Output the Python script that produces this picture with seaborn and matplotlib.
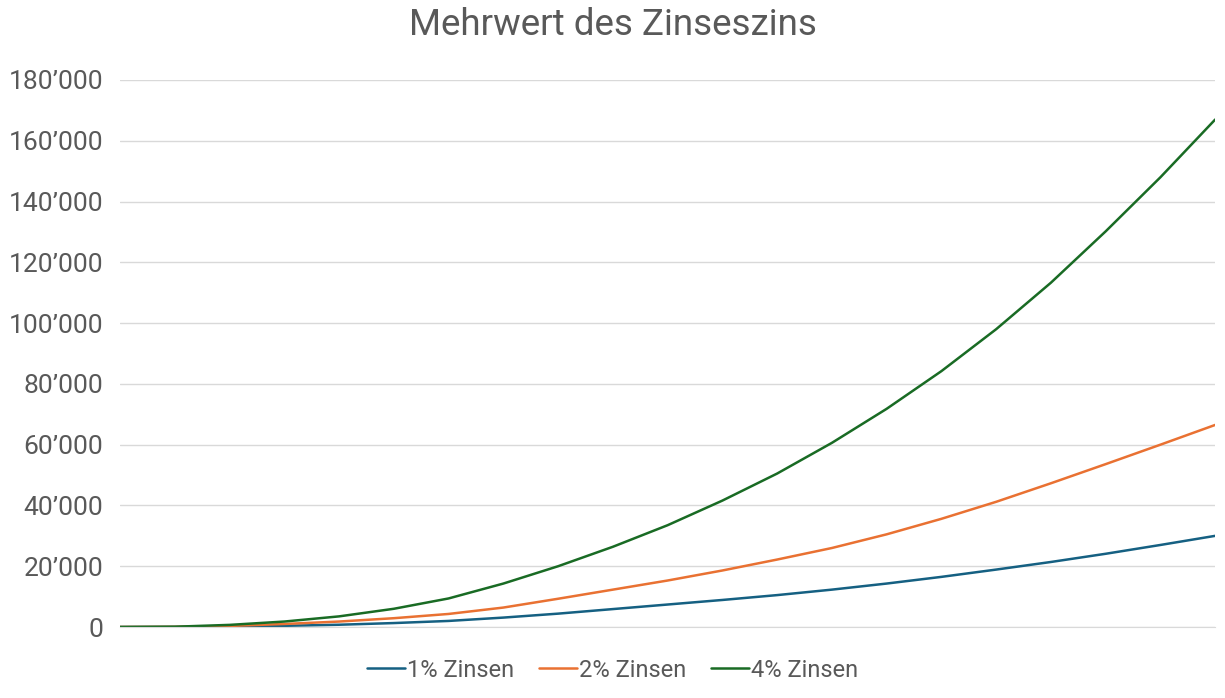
import numpy as np
import pandas as pd
import matplotlib
matplotlib.use("Agg")
import matplotlib.pyplot as plt
from matplotlib.ticker import FuncFormatter, MultipleLocator
import seaborn as sns

# Jahre (x-Achse, ohne Beschriftung)
years = list(range(0, 41, 2))

# Mehrwert durch Zinseszins
zins_1 = [0, 20, 150, 400, 750, 1300, 2000, 3100, 4400, 5900, 7400,
          8900, 10500, 12300, 14300, 16500, 18900, 21400, 24100, 27000, 30000]
zins_2 = [0, 50, 350, 1000, 1800, 2900, 4300, 6400, 9300, 12300, 15300,
          18600, 22200, 26000, 30500, 35600, 41200, 47300, 53600, 60000, 66500]
zins_4 = [0, 100, 700, 1800, 3500, 6000, 9400, 14300, 20000, 26400, 33500,
          41600, 50500, 60600, 71800, 84200, 98000, 113300, 130200, 148000, 167000]

series_names = ["1% Zinsen", "2% Zinsen", "4% Zinsen"]
colors = ["#156082", "#E97132", "#196B24"]

df = pd.DataFrame({
    "Jahr": years * 3,
    "Wert": zins_1 + zins_2 + zins_4,
    "Serie": [series_names[0]] * len(years) + [series_names[1]] * len(years) + [series_names[2]] * len(years),
})

sns.set_style("white")
plt.rcParams['font.family'] = ['Roboto', 'DejaVu Sans']

fig = plt.figure(figsize=(12.25, 6.98), dpi=100)
ax = fig.add_axes([0.098, 0.1017, 0.894, 0.7837])

sns.lineplot(data=df, x="Jahr", y="Wert", hue="Serie", palette=colors,
             linewidth=1.8, ax=ax, legend=False)

ax.set_xlim(0, 40)
ax.set_ylim(0, 180000)
ax.yaxis.set_major_locator(MultipleLocator(20000))
ax.yaxis.set_major_formatter(FuncFormatter(lambda v, p: f"{v:,.0f}".replace(",", "\u2019")))
ax.set_xticks([])
ax.set_xlabel("")
ax.set_ylabel("")
ax.grid(axis="y", color="#D9D9D9", linewidth=1)
ax.set_axisbelow(True)
for s in ["top", "right", "left"]:
    ax.spines[s].set_visible(False)
ax.spines["bottom"].set_color("#D9D9D9")
ax.tick_params(axis="y", length=0, pad=12, labelsize=19, labelcolor="#595959")

fig.suptitle("Mehrwert des Zinseszins", y=0.99, fontsize=26.5, color="#595959")

handles = [plt.Line2D([0], [0], color=c, lw=1.8) for c in colors]
fig.legend(handles, series_names, loc="center", bbox_to_anchor=(0.5, 0.04), ncol=3,
           frameon=False, fontsize=17, labelcolor="#595959",
           handlelength=1.6, handletextpad=0.1, columnspacing=1.05)

fig.savefig("out.png", dpi=100)
